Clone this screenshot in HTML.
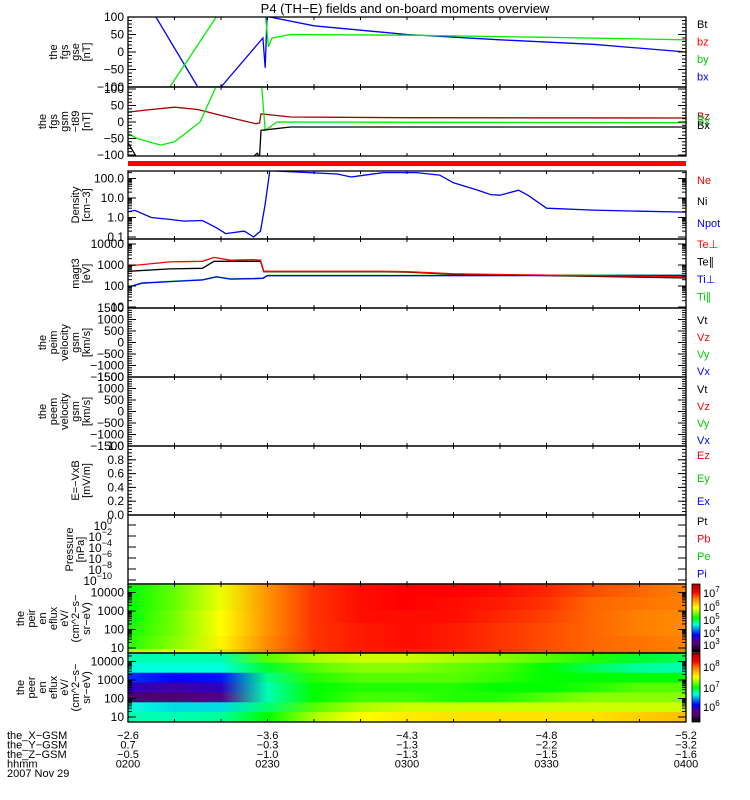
<!DOCTYPE html>
<html><head><meta charset="utf-8">
<style>
html,body{margin:0;padding:0;background:#fff;}
svg{display:block;font-family:"Liberation Sans",sans-serif;}
text{font-size:11px;}
</style></head>
<body>
<svg id="c" width="750" height="800" viewBox="0 0 750 800">
<text x="405" y="13" text-anchor="middle" style="font-size:13px">P4 (TH−E) fields and on-board moments overview</text>
<rect x="128" y="161" width="558" height="5" fill="#ff0000"/>
</svg>
<script>
// ---------- data ----------
const bxT=[0,6,15,20,29,29.5,29.9,30.5,40,60,80,100,120];
const bxV=[160,100,-100,-100,40,-45,100,100,75,50,35,22,0];
const byT=[9,19,21,28.5,29.6,30.2,31,35,60,90,120];
const byV=[-100,100,150,150,100,15,40,50,48,42,35];
const bzGsmT=[0,5,10,15,20,25,27.5,28.3,28.6,35,60,120];
const bzGsmV=[30,38,45,38,20,3,-5,-3,25,15,13,12];
const byGsmT=[0,2,7,10,15.5,18.7,19.5,28.5,28.8,29.5,32,120];
const byGsmV=[-35,-50,-70,-60,0,100,150,150,100,-25,0,-2];
const bxGsmT=[0,2,26.5,27.8,28.1,28.3,28.6,35,120];
const bxGsmV=[-63,-110,-110,-95,-103,-103,-25,-15,-15];
const denT=[0,1.5,5,9,12,16,19,21,25,27,28.5,29.5,30.5,45,48,50,55,62,67,70,75,78,80,84,86,90,100,110,120];
const denV=[2.0,2.3,1.0,0.8,0.65,0.7,0.3,0.15,0.2,0.1,0.2,5,250,170,120,140,200,200,150,60,26,15,14,25,14,3.0,2.4,2.1,1.9];
const tepT=[0,9,16,18.5,22,27,28.5,29.2,55,60,70,84,100,120];
const tepV=[900,1400,1500,2300,1700,1800,1700,500,500,480,380,340,310,280];
const tetT=[0,9,16,18.5,22,27,28.5,29.2,55,60,70,84,100,120];
const tetV=[500,650,700,1500,1500,1500,1500,480,480,460,360,330,290,240];
const tiT=[0,3,10,16,19,22,27,29,30,60,120];
const tiV=[90,140,170,200,280,220,230,240,320,320,330];
// spectrograms (normalized colour level 0..1), columns every 10 min from 0200 to 0400
const peirRow0=[0.50,0.56,0.64,0.76,0.84,0.87,0.88,0.88,0.87,0.85,0.82,0.80,0.78];
const peirRow1=[0.50,0.56,0.64,0.76,0.84,0.87,0.88,0.87,0.86,0.84,0.80,0.79,0.78];
const peirRow2=[0.50,0.57,0.65,0.76,0.84,0.87,0.87,0.87,0.85,0.83,0.80,0.78,0.77];
const peirRow3=[0.51,0.57,0.65,0.76,0.84,0.86,0.87,0.86,0.84,0.82,0.80,0.78,0.77];
const peirRow4=[0.52,0.58,0.66,0.77,0.84,0.86,0.87,0.86,0.84,0.82,0.80,0.79,0.78];
const peirRow5=[0.60,0.64,0.68,0.78,0.84,0.86,0.86,0.85,0.84,0.82,0.80,0.79,0.78];
const peerRow0=[0.42,0.42,0.42,0.55,0.60,0.62,0.62,0.60,0.58,0.55,0.52,0.48,0.46];
const peerRow1=[0.40,0.40,0.40,0.48,0.55,0.58,0.58,0.56,0.54,0.50,0.46,0.43,0.42];
const peerRow2=[0.28,0.25,0.26,0.44,0.52,0.55,0.55,0.55,0.53,0.50,0.50,0.50,0.50];
const peerRow3=[0.20,0.18,0.20,0.42,0.50,0.52,0.52,0.52,0.50,0.50,0.52,0.55,0.55];
const peerRow4=[0.12,0.12,0.16,0.42,0.50,0.54,0.54,0.52,0.52,0.55,0.58,0.58,0.58];
const peerRow5=[0.40,0.38,0.38,0.45,0.55,0.60,0.62,0.62,0.62,0.62,0.62,0.62,0.62];
const peerRow6=[0.42,0.42,0.43,0.50,0.60,0.65,0.67,0.68,0.68,0.68,0.68,0.70,0.72];
const xLabelsX=['−2.6','−3.6','−4.3','−4.8','−5.2'];
const xLabelsY=['0.7','−0.3','−1.3','−2.2','−3.2'];
const xLabelsZ=['−0.5','−1.0','−1.3','−1.5','−1.6'];
const xLabelsT=['0200','0230','0300','0330','0400'];

// ---------- helpers ----------
const svg=document.getElementById('c');
const NS='http://www.w3.org/2000/svg';
const X0=128,X1=686;
function xs(t){return X0+t*(X1-X0)/120;}
function mk(tag,attrs,parent){const e=document.createElementNS(NS,tag);for(const k in attrs)e.setAttribute(k,attrs[k]);(parent||svg).appendChild(e);return e;}
function txt(x,y,s,fill,anchor,size,name){const e=mk('text',{x:x,y:y,fill:fill||'#000','text-anchor':anchor||'start'});if(size)e.style.fontSize=size+'px';e.textContent=s;


return e;}
const panels=[
 {y0:17,y1:87},{y0:87,y1:156},{y0:171,y1:239},{y0:239,y1:308},{y0:308,y1:377},
 {y0:377,y1:446},{y0:446,y1:515},{y0:515,y1:584},{y0:584,y1:653},{y0:653,y1:722}];
function linY(p,lo,hi){return v=>p.y1-(v-lo)/(hi-lo)*(p.y1-p.y0);}
function clip(p,id){const cp=mk('clipPath',{id:id});mk('rect',{x:X0,y:p.y0,width:X1-X0,height:p.y1-p.y0},cp);}
function line(T,V,ys,color,clipId,name){
 const pts=T.map((t,i)=>xs(t).toFixed(1)+','+ys(V[i]).toFixed(1)).join(' ');
 const e=mk('polyline',{points:pts,fill:'none',stroke:color,'stroke-width':1.3,'clip-path':'url(#'+clipId+')'});
 
 
}
function frame(p,name){
 const r=mk('rect',{x:X0,y:p.y0,width:X1-X0,height:p.y1-p.y0,fill:'none',stroke:'#000','stroke-width':1.3});
 
 
 for(let t=10;t<120;t+=10){mk('line',{x1:xs(t),x2:xs(t),y1:p.y0,y2:p.y0+3,stroke:'#000'});mk('line',{x1:xs(t),x2:xs(t),y1:p.y1,y2:p.y1-3,stroke:'#000'});}
}
function yticks(p,ys,vals,labels,name,minor){
 vals.forEach((v,i)=>{const y=ys(v);
  mk('line',{x1:X0,x2:X0+8,y1:y,y2:y,stroke:'#000'});mk('line',{x1:X1,x2:X1-8,y1:y,y2:y,stroke:'#000'});
  if(labels[i]!==null)txt(124,y+4,labels[i],'#000','end',12,name);});
 (minor||[]).forEach(v=>{const y=ys(v);if(y<p.y0||y>p.y1)return;
  mk('line',{x1:X0,x2:X0+4,y1:y,y2:y,stroke:'#000'});mk('line',{x1:X1,x2:X1-4,y1:y,y2:y,stroke:'#000'});});
}
function ylabel(p,lines,cx,name){
 const cy=(p.y0+p.y1)/2;const n=lines.length;
 lines.forEach((s,i)=>{const x=cx-(n-1-i)*11;const e=txt(0,0,s,'#000','middle',11,name);e.setAttribute('transform','translate('+x+','+cy+') rotate(-90)');});
}
function logMinor(lo,hi){const a=[];for(let d=lo;d<hi;d++)for(let k=2;k<10;k++)a.push(k*Math.pow(10,d));return a;}
function linMinor(lo,hi,st){const a=[];for(let v=lo;v<=hi;v+=st)a.push(v);return a;}

// ---------- panel 1: fgs gse ----------
let p=panels[0];let y1=linY(p,-100,100);clip(p,'c0');
line(bxT,bxV,y1,'#0000ff','c0','bx-line');
line(byT,byV,y1,'#00ee00','c0','by-line');
frame(p,'fgs-gse-panel');yticks(p,y1,[100,50,0,-50,-100],['100','50','0','−50','−100'],'fgs-gse-tick',linMinor(-100,100,10));
ylabel(p,['the','fgs','gse','[nT]'],90,'fgs-gse-ylabel');
[['Bt','#000'],['bz','#ff0000'],['by','#00cc00'],['bx','#0000ff']].forEach((a,i)=>txt(697,28+i*17.5,a[0],a[1],'start',11,'legend-'+a[0]));

// ---------- panel 2: fgs gsm t89 ----------
p=panels[1];let y2=v=>122-v*0.33;clip(p,'c1');
line(bzGsmT,bzGsmV,y2,'#a00000','c1','bz-gsm-line');
line(byGsmT,byGsmV,y2,'#00ee00','c1','by-gsm-line');
line(bxGsmT,bxGsmV,y2,'#000000','c1','bx-gsm-line');
frame(p,'fgs-gsm-panel');yticks(p,y2,[100,50,0,-50,-100],['100','50','0','−50','−100'],'fgs-gsm-tick',linMinor(-120,100,10));
ylabel(p,['the','fgs','gsm','−t89','[nT]'],90,'fgs-gsm-ylabel');
txt(697,120,'Bz','#a00000','start',11,'legend-Bz');txt(697,124,'By','#00cc00','start',11,'legend-By');txt(697,129,'Bx','#000','start',11,'legend-Bx');

// ---------- panel 3: density ----------
p=panels[2];let y3=v=>237-(Math.log10(v)+1)*19.5;clip(p,'c2');
line(denT,denV,y3,'#0000ff','c2','density-line');
frame(p,'density-panel');yticks(p,y3,[100,10,1,0.1],['100.0','10.0','1.0','0.1'],'density-tick',logMinor(-1,3));
ylabel(p,['Density','[cm−3]'],90,'density-ylabel');
txt(697,184,'Ne','#ff0000','start',11,'legend-Ne');txt(697,205,'Ni','#000','start',11,'legend-Ni');txt(697,227,'Npot','#0000ff','start',11,'legend-Npot');

// ---------- panel 4: temperature ----------
p=panels[3];let y4=v=>286-(Math.log10(v)-2)*21;clip(p,'c3');
line(tiT,tiV,y4,'#00ee00','c3','ti-par-line');
line(tiT,tiV.map(v=>v*0.97),y4,'#0000ff','c3','ti-perp-line');
line(tetT,tetV,y4,'#000000','c3','te-par-line');
line(tepT,tepV,y4,'#ff0000','c3','te-perp-line');
frame(p,'temperature-panel');yticks(p,y4,[10000,1000,100,10],['10000','1000','100','10'],'temperature-tick',logMinor(1,4));
ylabel(p,['magt3','[eV]'],90,'temperature-ylabel');
[['Te⊥','#ff0000'],['Te∥','#000'],['Ti⊥','#0000ff'],['Ti∥','#00cc00']].forEach((a,i)=>txt(697,248+i*17.5,a[0],a[1],'start',11,'legend-'+a[0]));

// ---------- velocity panels ----------
[[4,'peim'],[5,'peem']].forEach(([k,nm])=>{
 const pp=panels[k];const ys=linY(pp,-1500,1500);
 frame(pp,nm+'-velocity-panel');
 yticks(pp,ys,[1500,1000,500,0,-500,-1000,-1500],['1500','1000','500','0','−500','−1000','−1500'],nm+'-velocity-tick',linMinor(-1500,1500,100));
 ylabel(pp,['the',nm,'velocity','gsm','[km/s]'],90,nm+'-velocity-ylabel');
 [['Vt','#000'],['Vz','#ff0000'],['Vy','#00cc00'],['Vx','#0000ff']].forEach((a,i)=>txt(697,pp.y0+16+i*17,a[0],a[1],'start',11,'legend-'+nm+'-'+a[0]));
});

// ---------- E field ----------
p=panels[6];let y7=linY(p,0,1);
frame(p,'efield-panel');yticks(p,y7,[1,0.8,0.6,0.4,0.2,0],['1.0','0.8','0.6','0.4','0.2','0.0'],'efield-tick',linMinor(0,1,0.05));
ylabel(p,['E=−VxB','[mV/m]'],90,'efield-ylabel');
txt(697,459,'Ez','#ff0000','start',11,'legend-Ez');txt(697,482,'Ey','#00cc00','start',11,'legend-Ey');txt(697,505,'Ex','#0000ff','start',11,'legend-Ex');

// ---------- pressure ----------
p=panels[7];let y8=v=>580-(Math.log10(v)+10)/10*55;
frame(p,'pressure-panel');
[0,-2,-4,-6,-8,-10].forEach(e=>{const y=y8(Math.pow(10,e));mk('line',{x1:X0,x2:X0+8,y1:y,y2:y,stroke:'#000'});mk('line',{x1:X1,x2:X1-8,y1:y,y2:y,stroke:'#000'});
 const t=txt(112,y+5,'10','#000','end',12,'pressure-tick');const s=document.createElementNS(NS,'tspan');s.setAttribute('dy','-6');s.style.fontSize='9px';s.textContent=String(e).replace('-','−');t.appendChild(s);});
ylabel(p,['Pressure','[nPa]'],84,'pressure-ylabel');
[['Pt','#000'],['Pb','#ff0000'],['Pe','#00cc00'],['Pi','#0000ff']].forEach((a,i)=>txt(697,525+i*17.5,a[0],a[1],'start',11,'legend-'+a[0]));

// ---------- spectrograms ----------
const cmap=[[0,'#000000'],[0.08,'#40005a'],[0.15,'#5a0080'],[0.25,'#0000ff'],[0.4,'#00ffdd'],[0.5,'#00ff00'],[0.65,'#ffff00'],[0.78,'#ff8000'],[0.88,'#ff0000'],[1,'#a00000']];
function hex(h){return[1,3,5].map(i=>parseInt(h.substr(i,2),16));}
function col(v){for(let i=1;i<cmap.length;i++){if(v<=cmap[i][0]){const a=cmap[i-1],b=cmap[i];const f=(v-a[0])/(b[0]-a[0]);const ca=hex(a[1]),cb=hex(b[1]);return 'rgb('+ca.map((c,j)=>Math.round(c+(cb[j]-c)*f)).join(',')+')';}}return cmap[cmap.length-1][1];}
const defs=mk('defs',{});
let gid=0;
function spec(pp,rows,weights,name){
 const tot=weights.reduce((a,b)=>a+b,0);let y=pp.y0;
 rows.forEach((r,ri)=>{
  const h=(pp.y1-pp.y0)*weights[ri]/tot;
  const id='g'+(gid++);const g=mk('linearGradient',{id:id,x1:0,x2:1,y1:0,y2:0},defs);
  r.forEach((v,i)=>mk('stop',{offset:(i/(r.length-1)),'stop-color':col(v)},g));
  const e=mk('rect',{x:X0,y:y.toFixed(2),width:X1-X0,height:(h+0.6).toFixed(2),fill:'url(#'+id+')'});
  
  
  y+=h;
 });
}
spec(panels[8],[peirRow0,peirRow1,peirRow2,peirRow3,peirRow4,peirRow5],[13,13,13,13,13,4],'peir-spectrogram');
spec(panels[9],[peerRow0,peerRow1,peerRow2,peerRow3,peerRow4,peerRow5,peerRow6],[1,1,1,1,1,1,1],'peer-spectrogram');
[[8,'peir'],[9,'peer']].forEach(([k,nm])=>{
 const pp=panels[k];const ys=v=>pp.y1-5-(Math.log10(v)-1)*18.5;
 frame(pp,nm+'-spectrogram-panel');
 yticks(pp,ys,[10000,1000,100,10],['10000','1000','100','10'],nm+'-energy-tick',logMinor(1,5));
 ylabel(pp,['the',nm,'en','eflux','eV/','(cm^2−s−','sr−eV)'],90,nm+'-ylabel');
});
// colorbars
function cbar(y0,y1,name){
 const id='cb'+name;const g=mk('linearGradient',{id:id,x1:0,x2:0,y1:1,y2:0},defs);
 cmap.forEach(c=>mk('stop',{offset:c[0],'stop-color':c[1]},g));
 const e=mk('rect',{x:692,y:y0,width:8,height:y1-y0,fill:'url(#'+id+')',stroke:'#000','stroke-width':0.8});
 
 
}
cbar(584,652,'peir-colorbar');cbar(653,722,'peer-colorbar');
function sup(x,y,e,name){const t=txt(x,y,'10','#000','start',11,name);const s=document.createElementNS(NS,'tspan');s.setAttribute('dy','-5');s.style.fontSize='8px';s.textContent=e;t.appendChild(s);}
[[593,'7'],[607,'6'],[620,'5'],[633,'4'],[645,'3']].forEach(a=>sup(703,a[0]+4,a[1],'peir-colorbar-label'));
[[667,'8'],[688,'7'],[707,'6']].forEach(a=>sup(703,a[0]+4,a[1],'peer-colorbar-label'));

// ---------- bottom axis ----------
const rowsB=[xLabelsX,xLabelsY,xLabelsZ,xLabelsT];
['the_X−GSM','the_Y−GSM','the_Z−GSM','hhmm'].forEach((s,i)=>txt(7,739+i*9.5,s,'#000','start',11,'axis-row-label'));
txt(7,777,'2007 Nov 29','#000','start',11,'date-label');
rowsB.forEach((arr,i)=>arr.forEach((s,j)=>txt(X0+j*(X1-X0)/4,739+i*9.5,s,'#000','middle',11,'axis-value-label')));
</script>
</body></html>
